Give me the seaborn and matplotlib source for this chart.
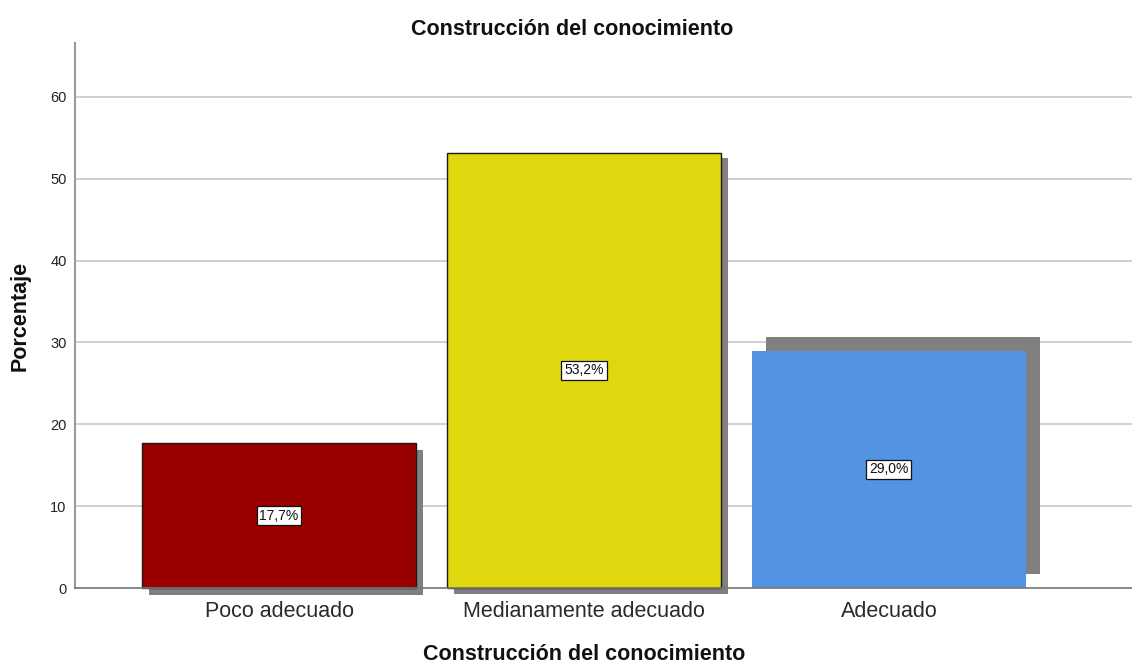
#bar chart of percentages per category, SPSS look with shadowed bars and boxed value labels

import matplotlib
matplotlib.use("Agg")
import matplotlib.pyplot as plt
import matplotlib.patheffects as pe
import seaborn as sns
import pandas as pd

#~~~~~~~~~~~~~~~~~~~~~~~~~~~~~~~~~~~~~~~~~~~~~~~~~~~~~~~~~~~~~~~~~~~~~~~~~~~~~~~~~~~~~~~~~~~~~~~~~~~~~~~~
#data
categorias = ['Poco adecuado', 'Medianamente adecuado', 'Adecuado']
porcentajes = [17.7, 53.2, 29.0]
etiquetas = ['17,7%', '53,2%', '29,0%']
titulo = 'Construcción del conocimiento'

colores = ['#990000', '#E1D70E', '#5294E2']
bordes = ['#1a1a1a', '#1a1a1a', 'none']
# shadow offsets in points (the third one is shifted up in the original)
sombras = [(5, -5), (5, -4), (10, 10)]

df = pd.DataFrame({'categoria': categorias, 'porcentaje': porcentajes})

#~~~~~~~~~~~~~~~~~~~~~~~~~~~~~~~~~~~~~~~~~~~~~~~~~~~~~~~~~~~~~~~~~~~~~~~~~~~~~~~~~~~~~~~~~~~~~~~~~~~~~~~~
#plot
sns.set_style('white')
plt.rcParams['font.family'] = ['Liberation Sans', 'DejaVu Sans']

fig = plt.figure(figsize=(11.32, 6.63), dpi=100)
ax = fig.add_axes([0.0663, 0.1131, 0.9337, 0.8221])

sns.barplot(data=df, x='categoria', y='porcentaje', hue='categoria',
            palette=colores, legend=False, width=0.898, saturation=1, ax=ax)

for i, bar in enumerate(ax.patches):
    bar.set_edgecolor(bordes[i])
    bar.set_linewidth(1.0)
    bar.set_clip_on(False)
    bar.set_path_effects([pe.SimplePatchShadow(offset=sombras[i], shadow_rgbFace='#808080', alpha=1.0),
                          pe.Normal()])
    ax.text(bar.get_x() + bar.get_width() / 2, porcentajes[i] / 2, etiquetas[i],
            ha='center', va='center', fontsize=10, color='#111111', zorder=5,
            bbox=dict(boxstyle='square,pad=0.2', fc='white', ec='#111111', lw=0.9))

ax.set_xlim(-0.669, 2.797)
ax.set_ylim(0, 66.6)
ax.set_yticks([0, 10, 20, 30, 40, 50, 60])
ax.yaxis.grid(True, color='#d0d0d0', lw=1.4)
ax.set_axisbelow(True)

for s in ['top', 'right']:
    ax.spines[s].set_visible(False)
ax.spines['left'].set_color('#999999')
ax.spines['left'].set_linewidth(1.5)
ax.spines['bottom'].set_color('#777777')
ax.spines['bottom'].set_linewidth(1.2)

ax.tick_params(axis='y', length=0, pad=6, labelsize=10.5, labelcolor='#222222')
ax.tick_params(axis='x', length=0, pad=9, labelsize=15.5, labelcolor='#2a2a2a')

ax.set_title(titulo, fontsize=15.5, fontweight='bold', pad=6, color='#111111', x=0.470)
ax.set_xlabel(titulo, fontsize=15.5, fontweight='bold', color='#111111')
ax.set_ylabel('Porcentaje', fontsize=15.5, fontweight='bold', color='#111111')
ax.xaxis.set_label_coords(0.4816, -0.103)
ax.yaxis.set_label_coords(-0.042, 0.5)

fig.savefig('out.png', dpi=100)
